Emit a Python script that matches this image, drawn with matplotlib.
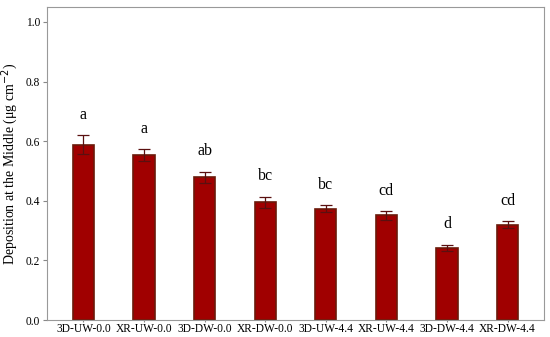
import matplotlib
matplotlib.use("Agg")
import matplotlib.pyplot as plt
import numpy as np

# data
groups = ["3D-UW-0.0", "XR-UW-0.0", "3D-DW-0.0", "XR-DW-0.0",
          "3D-UW-4.4", "XR-UW-4.4", "3D-DW-4.4", "XR-DW-4.4"]
means = [0.588, 0.553, 0.479, 0.395, 0.374, 0.351, 0.243, 0.320]
errs = [0.032, 0.020, 0.018, 0.018, 0.011, 0.014, 0.010, 0.011]
letters = ["a", "a", "ab", "bc", "bc", "cd", "d", "cd"]

plt.rcParams['font.family'] = ['Liberation Serif', 'DejaVu Serif']

fig = plt.figure(figsize=(5.5, 3.37), dpi=100)
ax = fig.add_axes([0.0855, 0.0504, 0.9035, 0.9286])

x = np.arange(len(groups))
ax.bar(x, means, width=0.35, color='#a00000', edgecolor='#6b1a0a', linewidth=1.2,
       yerr=errs, capsize=4, error_kw=dict(ecolor='#5a1010', elinewidth=0.9, capthick=0.9))

for xi, m, e, l in zip(x, means, errs, letters):
    ax.text(xi, m + e + 0.042, l, ha='center', va='bottom', fontsize=11.5)

ax.set_xlim(-0.6, 7.6)
ax.set_ylim(0, 1.05)
ax.set_xticks(x)
ax.set_xticklabels(groups, fontsize=8.3)
ax.set_yticks([0.0, 0.2, 0.4, 0.6, 0.8, 1.0])
ax.set_yticklabels(["0.0", "0.2", "0.4", "0.6", "0.8", "1.0"], fontsize=8.3)
ax.set_ylabel("Deposition at the Middle (\u03bcg cm$^{-2}$)", fontsize=10)
ax.yaxis.set_label_coords(-0.054, 0.5)
ax.tick_params(axis='y', length=3, color='#888888', pad=2)
ax.tick_params(axis='x', length=1.5, color='#888888', pad=0.5)
for s in ax.spines.values():
    s.set_color('#999999')

fig.savefig("out.png", dpi=100)
